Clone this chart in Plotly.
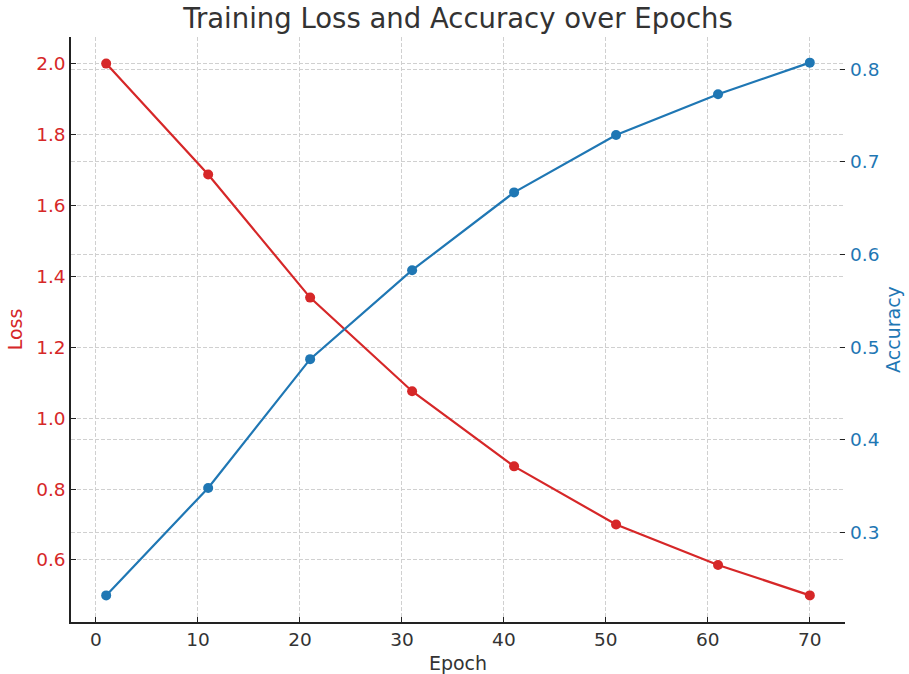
import plotly.graph_objects as go

epochs = [1, 11, 21, 31, 41, 51, 61, 70]
loss = [2.0, 1.687, 1.340, 1.076, 0.864, 0.700, 0.586, 0.500]
accuracy = [0.232, 0.348, 0.487, 0.583, 0.667, 0.729, 0.773, 0.807]

RED = "#d62728"
BLUE = "#1f77b4"
FONT = "DejaVu Sans"
GRID = "#d0d0d0"

fig = go.Figure()
fig.add_trace(go.Scatter(x=epochs, y=loss, mode="lines+markers", name="Loss",
                         line=dict(color=RED, width=2.2),
                         marker=dict(color=RED, size=10), yaxis="y"))
fig.add_trace(go.Scatter(x=epochs, y=accuracy, mode="lines+markers", name="Accuracy",
                         line=dict(color=BLUE, width=2.2),
                         marker=dict(color=BLUE, size=10), yaxis="y2"))

fig.update_layout(
    width=909, height=674,
    margin=dict(l=71, r=64, t=37, b=52, autoexpand=False),
    paper_bgcolor="white", plot_bgcolor="white",
    showlegend=False,
    font=dict(family=FONT, size=18, color="#222222"),
    title=dict(text="Training Loss and Accuracy over Epochs", x=0.5, xref="paper",
               xanchor="center", y=1 - 18 / 674, yref="container", yanchor="middle",
               font=dict(family=FONT, size=27.5, color="#333333")),
    xaxis=dict(range=[-2.45, 73.45], tickmode="linear", tick0=0, dtick=10,
               automargin=False,
               showgrid=True, gridcolor=GRID, griddash="4px,2px", gridwidth=1,
               zeroline=False, showline=True, linecolor="#222222", linewidth=1.5,
               ticks="inside", ticklen=5, tickcolor="#222222",
               title=dict(text="Epoch", font=dict(size=19, color="#333333"), standoff=8),
               tickfont=dict(size=18.5, color="#333333")),
    yaxis=dict(range=[0.425, 2.075], tickmode="linear", tick0=0.6, dtick=0.2,
               tickformat=".1f", automargin=False,
               showgrid=True, gridcolor=GRID, griddash="4px,2px", gridwidth=1,
               zeroline=False, showline=True, linecolor="#222222", linewidth=1.5,
               ticks="inside", ticklen=5, tickcolor="#222222",
               tickfont=dict(size=18.5, color=RED),
               title=dict(text="Loss", font=dict(size=19, color=RED), standoff=8)),
    yaxis2=dict(range=[0.2033, 0.8347], tickmode="linear", tick0=0.3, dtick=0.1,
                tickformat=".1f", overlaying="y", side="right", automargin=False,
                showgrid=True, gridcolor=GRID, griddash="4px,2px", gridwidth=1,
                zeroline=False, showline=False,
                ticks="inside", ticklen=5, tickcolor="#222222",
                ticklabelstandoff=4,
                tickfont=dict(size=18.5, color=BLUE),
                title=dict(text="Accuracy", font=dict(size=19, color=BLUE), standoff=8)),
)

fig.write_html("out.html", config={"displayModeBar": False},
               post_script="document.body.style.margin='0px';")
